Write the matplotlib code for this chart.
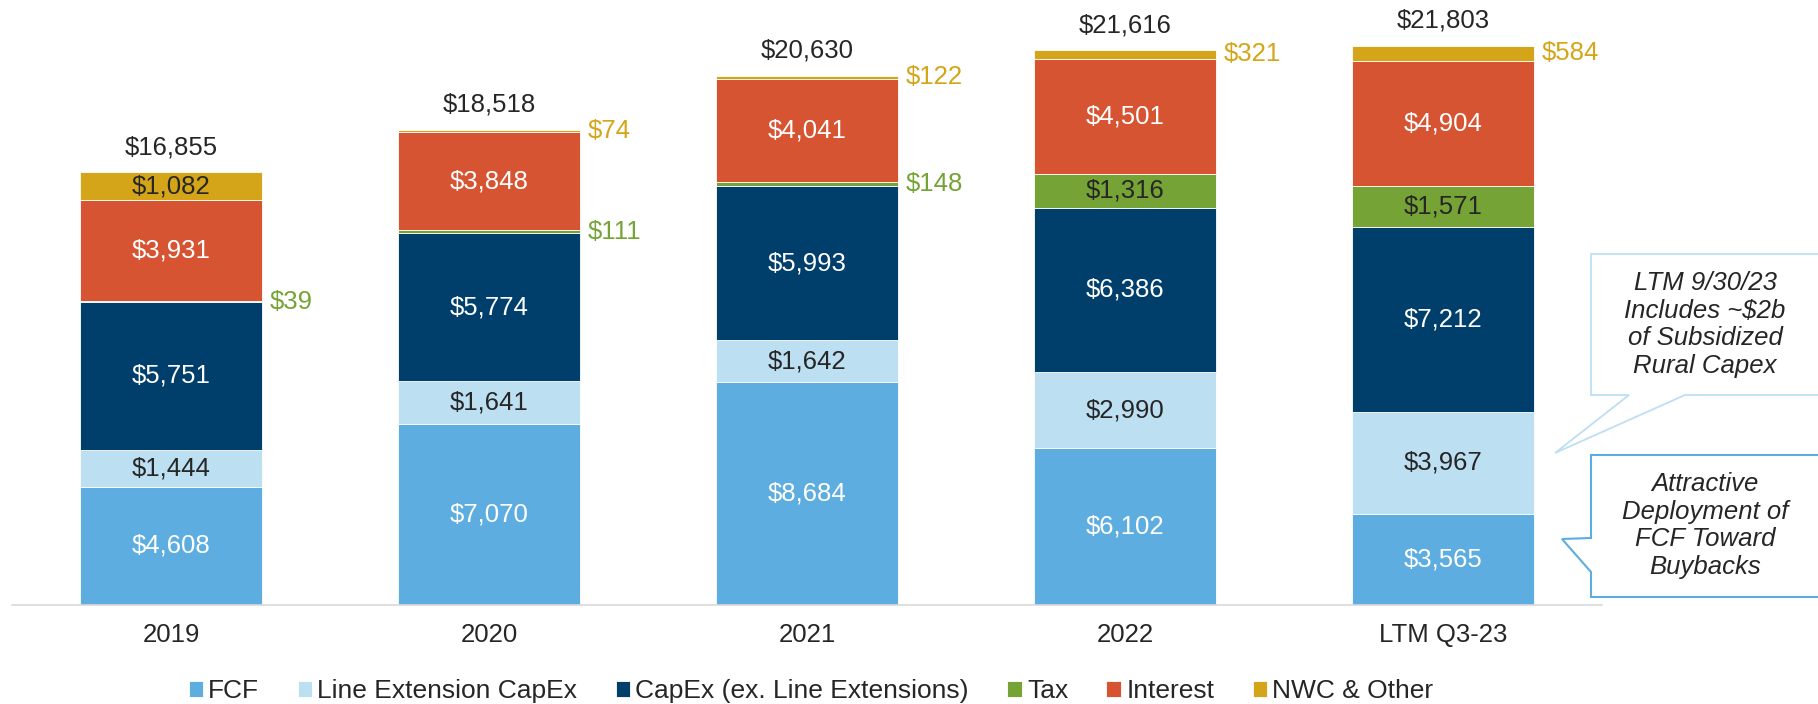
import matplotlib
matplotlib.use("Agg")
import matplotlib.pyplot as plt
from matplotlib.patches import Polygon

plt.rcParams['font.family'] = ['Liberation Sans', 'DejaVu Sans']

years = ["2019", "2020", "2021", "2022", "LTM Q3-23"]
fcf = [4608, 7070, 8684, 6102, 3565]
line_ext = [1444, 1641, 1642, 2990, 3967]
capex = [5751, 5774, 5993, 6386, 7212]
tax = [39, 111, 148, 1316, 1571]
interest = [3931, 3848, 4041, 4501, 4904]
nwc = [1082, 74, 122, 321, 584]
totals = [16855, 18518, 20630, 21616, 21803]

names = ["FCF", "Line Extension CapEx", "CapEx (ex. Line Extensions)", "Tax", "Interest", "NWC & Other"]
colors = ["#5DADE0", "#BDDFF2", "#003F6B", "#76A335", "#D75433", "#D5A519"]
text_cols = ["white", "#262626", "white", "#262626", "white", "#262626"]
series = [fcf, line_ext, capex, tax, interest, nwc]

dark = "#262626"
fs = 18.5
W, H = 1818, 704

fig = plt.figure(figsize=(W / 100, H / 100), dpi=100)
ax = fig.add_axes([12 / W, 99 / H, 1590 / W, 605 / H])
ax.set_xlim(-0.5, 4.5)
ax.set_ylim(0, 23577)

x = list(range(len(years)))
bottom = [0] * len(years)
handles = []
for vals, c, tc, name in zip(series, colors, text_cols, names):
    b = ax.bar(x, vals, width=0.57, bottom=bottom, color=c, edgecolor="white",
               linewidth=0.6, label=name)
    handles.append(b)
    for i, v in enumerate(vals):
        mid = bottom[i] + v / 2
        if v >= 1000:
            ax.text(i, mid, f"${v:,}", ha="center", va="center", color=tc, fontsize=fs)
        else:
            # thin segments get their label beside the bar
            ax.annotate(f"${v:,}", (i + 0.285, mid), xytext=(6, 0), textcoords="offset points",
                        ha="left", va="center", color=c, fontsize=fs)
    bottom = [bb + v for bb, v in zip(bottom, vals)]

for i, t in enumerate(totals):
    ax.annotate(f"${t:,}", (i, t), xytext=(0, 13), textcoords="offset points",
                ha="center", va="baseline", color=dark, fontsize=fs)

for s in ["top", "right", "left"]:
    ax.spines[s].set_visible(False)
ax.spines["bottom"].set_color("#D9D9D9")
ax.spines["bottom"].set_linewidth(1.2)
ax.set_yticks([])
ax.set_xticks(x)
ax.set_xticklabels(years, fontsize=fs, color=dark)
ax.tick_params(axis="x", length=0, pad=13)

fig.legend(handles=handles, loc="center", bbox_to_anchor=(811 / W, 1 - 691 / H), ncol=6,
           frameon=False, fontsize=19, handlelength=0.55, handleheight=0.55,
           handletextpad=0.2, columnspacing=1.45, labelcolor=dark)


def px(pts):
    return [(a / W, 1 - b / H) for a, b in pts]


# callout boxes (pixel positions, top-left origin)
box1 = [(1591, 254), (1840, 254), (1840, 395), (1685, 395), (1555, 453), (1629, 395), (1591, 395)]
box2 = [(1591, 455), (1840, 455), (1840, 597), (1591, 597), (1591, 572), (1562, 539), (1591, 538)]
fig.patches.append(Polygon(px(box1), closed=True, facecolor="white", edgecolor="#BDDFF2",
                           linewidth=1.3, transform=fig.transFigure, figure=fig))
fig.patches.append(Polygon(px(box2), closed=True, facecolor="white", edgecolor="#5DADE0",
                           linewidth=1.5, transform=fig.transFigure, figure=fig))

fig.text(1705 / W, 1 - 324.5 / H, "LTM 9/30/23\nIncludes ~$2b\nof Subsidized\nRural Capex",
         ha="center", va="center", fontsize=fs, style="italic", color=dark, linespacing=1.2)
fig.text(1705 / W, 1 - 525.5 / H, "Attractive\nDeployment of\nFCF Toward\nBuybacks",
         ha="center", va="center", fontsize=fs, style="italic", color=dark, linespacing=1.2)

fig.savefig("out.png", dpi=100)
